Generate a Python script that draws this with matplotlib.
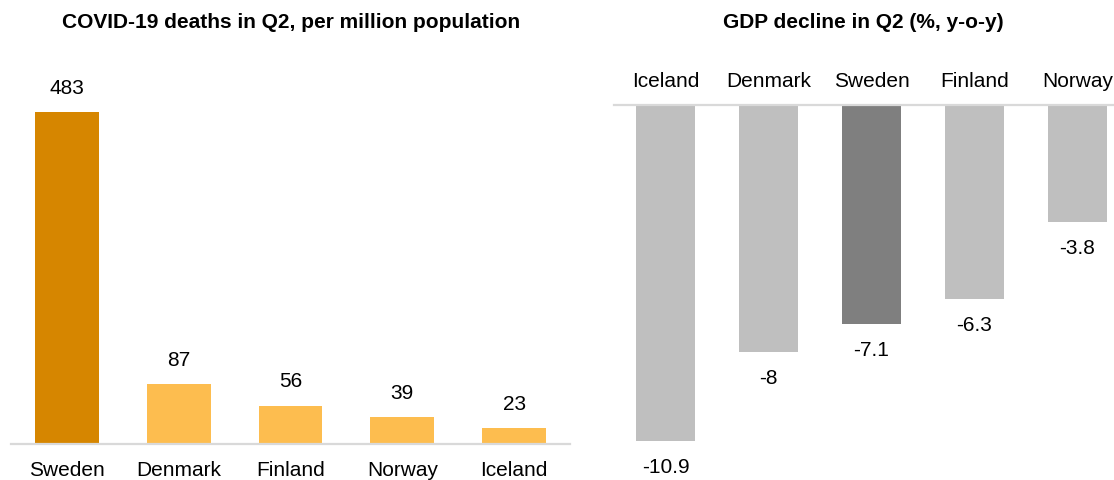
import matplotlib.pyplot as plt

plt.rcParams['font.family'] = ['Liberation Sans', 'DejaVu Sans']

# Deaths per million population, Q2
death_countries = ['Sweden', 'Denmark', 'Finland', 'Norway', 'Iceland']
deaths = [483, 87, 56, 39, 23]

# GDP change y-o-y, Q2
gdp_countries = ['Iceland', 'Denmark', 'Sweden', 'Finland', 'Norway']
gdp = [-10.9, -8, -7.1, -6.3, -3.8]

ORANGE = '#FDBD4F'
ORANGE_DARK = '#D68600'
GREY = '#BFBFBF'
GREY_DARK = '#7F7F7F'
LINE = '#D9D9D9'

fig = plt.figure(figsize=(11.14, 4.8), dpi=100)

# left: deaths
ax1 = fig.add_axes([11 / 1114, 36 / 480, 559 / 1114, 384 / 480])
cols = [ORANGE_DARK if c == 'Sweden' else ORANGE for c in death_countries]
bars = ax1.bar(range(len(deaths)), deaths, width=0.57, color=cols)
for b, v in zip(bars, deaths):
    ax1.annotate(str(v), (b.get_x() + b.get_width() / 2, v), xytext=(0, 17),
                 textcoords='offset points', ha='center', va='center', fontsize=15)
ax1.set_xlim(-0.5, len(deaths) - 0.5)
ax1.set_ylim(0, 558.6)
ax1.set_xticks(range(len(deaths)))
ax1.set_xticklabels(death_countries, fontsize=15)
ax1.tick_params(axis='x', length=0, pad=12)
ax1.set_yticks([])
for s in ['left', 'right', 'top']:
    ax1.spines[s].set_visible(False)
ax1.spines['bottom'].set_color(LINE)
ax1.spines['bottom'].set_linewidth(1.6)

# right: GDP
ax2 = fig.add_axes([614 / 1114, 0, 515 / 1114, 375 / 480])
cols = [GREY_DARK if c == 'Sweden' else GREY for c in gdp_countries]
bars = ax2.bar(range(len(gdp)), gdp, width=0.58, color=cols)
for b, v in zip(bars, gdp):
    ax2.annotate('{:g}'.format(v), (b.get_x() + b.get_width() / 2, v), xytext=(0, -19),
                 textcoords='offset points', ha='center', va='center', fontsize=15)
ax2.set_xlim(-0.5, len(gdp) - 0.5)
ax2.set_ylim(-12.16, 0)
ax2.xaxis.tick_top()
ax2.set_xticks(range(len(gdp)))
ax2.set_xticklabels(gdp_countries, fontsize=15)
ax2.tick_params(axis='x', length=0, pad=10)
ax2.set_yticks([])
for s in ['left', 'right', 'bottom']:
    ax2.spines[s].set_visible(False)
ax2.spines['top'].set_color(LINE)
ax2.spines['top'].set_linewidth(1.6)

fig.text(291 / 1114, 1 - 23 / 480, 'COVID-19 deaths in Q2, per million population',
         ha='center', va='center', fontsize=15, fontweight='bold')
fig.text(863.5 / 1114, 1 - 23 / 480, 'GDP decline in Q2 (%, y-o-y)',
         ha='center', va='center', fontsize=15, fontweight='bold')

fig.savefig('out.png', dpi=100)
